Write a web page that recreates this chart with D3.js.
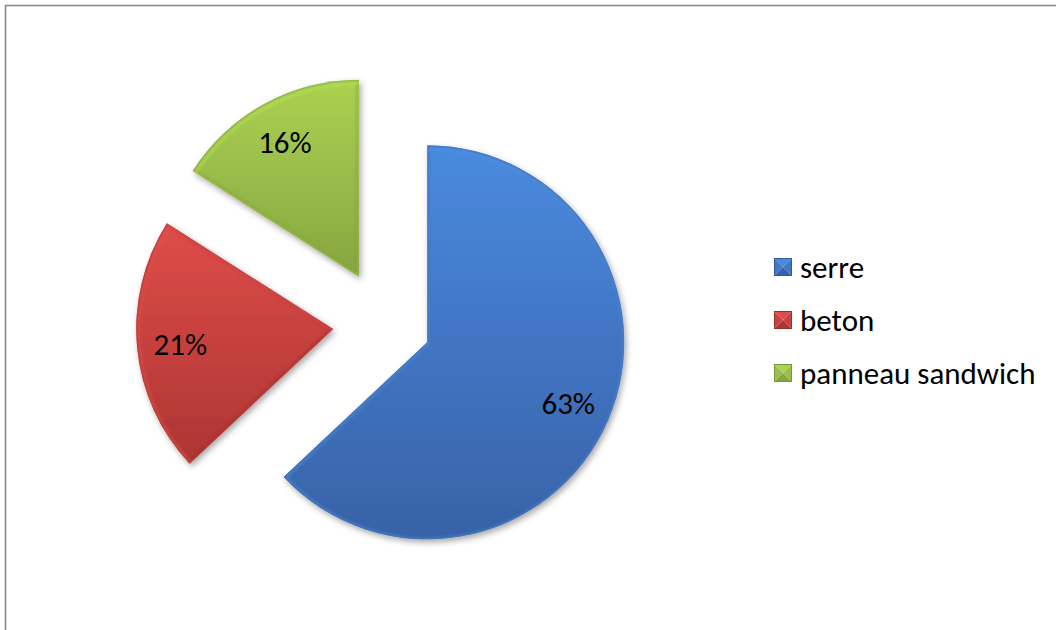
<!DOCTYPE html>
<html>
<head>
<meta charset="utf-8">
<script src="https://cdn.jsdelivr.net/npm/d3@7"></script>
<style>
  html, body { margin: 0; padding: 0; background: #fff; }
  svg { display: block; }
  text { font-family: Carlito, Calibri, Lato, "Open Sans", sans-serif; }
</style>
</head>
<body>
<svg id="chart" width="1056" height="630"></svg>
<script>
// Share of each building type
const categories = ["serre", "beton", "panneau sandwich"];
const shares = [63, 21, 16];
const labels = ["63%", "21%", "16%"];

// Fill shades per slice: light (top), base, dark (bottom)
const palette = {
  "serre":            { light: "#4a8ade", base: "#4277c6", dark: "#3862a6" },
  "beton":            { light: "#de4d49", base: "#c8423f", dark: "#ad3533" },
  "panneau sandwich": { light: "#abd250", base: "#9bbd4c", dark: "#86a63e" }
};

const W = 1056, H = 630;
const svg = d3.select("#chart");
const defs = svg.append("defs");

// frame of the chart area
svg.append("rect")
  .attr("x", 5.5).attr("y", 5.5)
  .attr("width", W + 20).attr("height", H + 20)
  .attr("fill", "#fff")
  .attr("stroke", "#8a8a8a").attr("stroke-width", 1.6);

// soft shadow under slices
const shadow = defs.append("filter").attr("id", "shadow")
  .attr("x", "-20%").attr("y", "-20%").attr("width", "140%").attr("height", "140%");
shadow.append("feDropShadow")
  .attr("dx", 2).attr("dy", 3).attr("stdDeviation", 3)
  .attr("flood-color", "#000").attr("flood-opacity", 0.35);

// blur used for the bevelled rim
const rimBlur = defs.append("filter").attr("id", "rimBlur");
rimBlur.append("feGaussianBlur").attr("stdDeviation", 1.6);

categories.forEach((c, i) => {
  const p = palette[c];
  const g = defs.append("linearGradient").attr("id", "grad" + i)
    .attr("x1", 0).attr("y1", 0).attr("x2", 0).attr("y2", 1);
  g.append("stop").attr("offset", "0%").attr("stop-color", p.light);
  g.append("stop").attr("offset", "45%").attr("stop-color", p.base);
  g.append("stop").attr("offset", "100%").attr("stop-color", p.dark);
});

const radius = 197;
const cx = 385, cy = 324;
const explodeBy = [46, 52, 54];

const pie = d3.pie().sort(null).value(d => d.value).startAngle(0).endAngle(2 * Math.PI);
const arcs = pie(categories.map((c, i) => ({ name: c, value: shares[i], label: labels[i] })));

const arc = d3.arc().innerRadius(0).outerRadius(radius);
const rimArc = d3.arc().innerRadius(0).outerRadius(radius - 1.5);
const labelArc = d3.arc().innerRadius(radius * 0.78).outerRadius(radius * 0.78);

const pieG = svg.append("g").attr("transform", `translate(${cx},${cy})`);

const clip = defs.selectAll("clipPath.slice").data(arcs).enter()
  .append("clipPath").attr("class", "slice").attr("id", (d, i) => "clip" + i);
clip.append("path").attr("d", arc);

const slice = pieG.selectAll("g.slice").data(arcs).enter()
  .append("g").attr("class", "slice")
  .attr("transform", (d, i) => {
    const mid = (d.startAngle + d.endAngle) / 2;
    return `translate(${explodeBy[i] * Math.sin(mid)},${-explodeBy[i] * Math.cos(mid)})`;
  });

slice.append("path")
  .attr("d", arc)
  .attr("fill", (d, i) => `url(#grad${i})`)
  .attr("filter", "url(#shadow)");

// bevel: light rim on top, dark rim underneath, clipped to slice
const bevel = slice.append("g").attr("clip-path", (d, i) => `url(#clip${i})`);
bevel.append("path")
  .attr("d", arc)
  .attr("fill", "none")
  .attr("stroke", (d) => d3.color(palette[d.data.name].dark).darker(0.5))
  .attr("stroke-width", 5)
  .attr("stroke-opacity", 0.55)
  .attr("filter", "url(#rimBlur)");
bevel.append("path")
  .attr("d", rimArc)
  .attr("transform", "translate(0.8,1.2)")
  .attr("fill", "none")
  .attr("stroke", (d) => d3.color(palette[d.data.name].light).brighter(0.5))
  .attr("stroke-width", 3)
  .attr("stroke-opacity", 0.5)
  .attr("filter", "url(#rimBlur)");

slice.append("text")
  .attr("transform", d => `translate(${labelArc.centroid(d)})`)
  .attr("text-anchor", "middle")
  .attr("dy", "0.36em")
  .attr("font-size", 31)
  .attr("fill", "#000")
  .text(d => d.data.label);

// legend
const legendX = 774, legendY = 258, legendStep = 53, sw = 18;
const legend = svg.append("g").attr("transform", `translate(${legendX},${legendY})`);
const item = legend.selectAll("g").data(categories).enter().append("g")
  .attr("transform", (d, i) => `translate(0,${i * legendStep})`);

const tri = (pts) => "M" + pts.map(p => p.join(",")).join("L") + "Z";
const m = sw / 2;
item.append("path").attr("d", tri([[0, 0], [sw, 0], [m, m]])).attr("fill", d => palette[d].light);
item.append("path").attr("d", tri([[0, 0], [m, m], [0, sw]])).attr("fill", d => palette[d].base);
item.append("path").attr("d", tri([[sw, 0], [sw, sw], [m, m]])).attr("fill", d => palette[d].base);
item.append("path").attr("d", tri([[0, sw], [m, m], [sw, sw]])).attr("fill", d => palette[d].dark);
item.append("rect").attr("x", 0.5).attr("y", 0.5).attr("width", sw - 1).attr("height", sw - 1)
  .attr("fill", "none").attr("stroke", d => d3.color(palette[d].dark).darker(0.3)).attr("stroke-width", 1);

item.append("text")
  .attr("x", 26).attr("y", sw / 2)
  .attr("dy", "0.36em")
  .attr("font-size", 31)
  .attr("fill", "#000")
  .text(d => d);
</script>
</body>
</html>
